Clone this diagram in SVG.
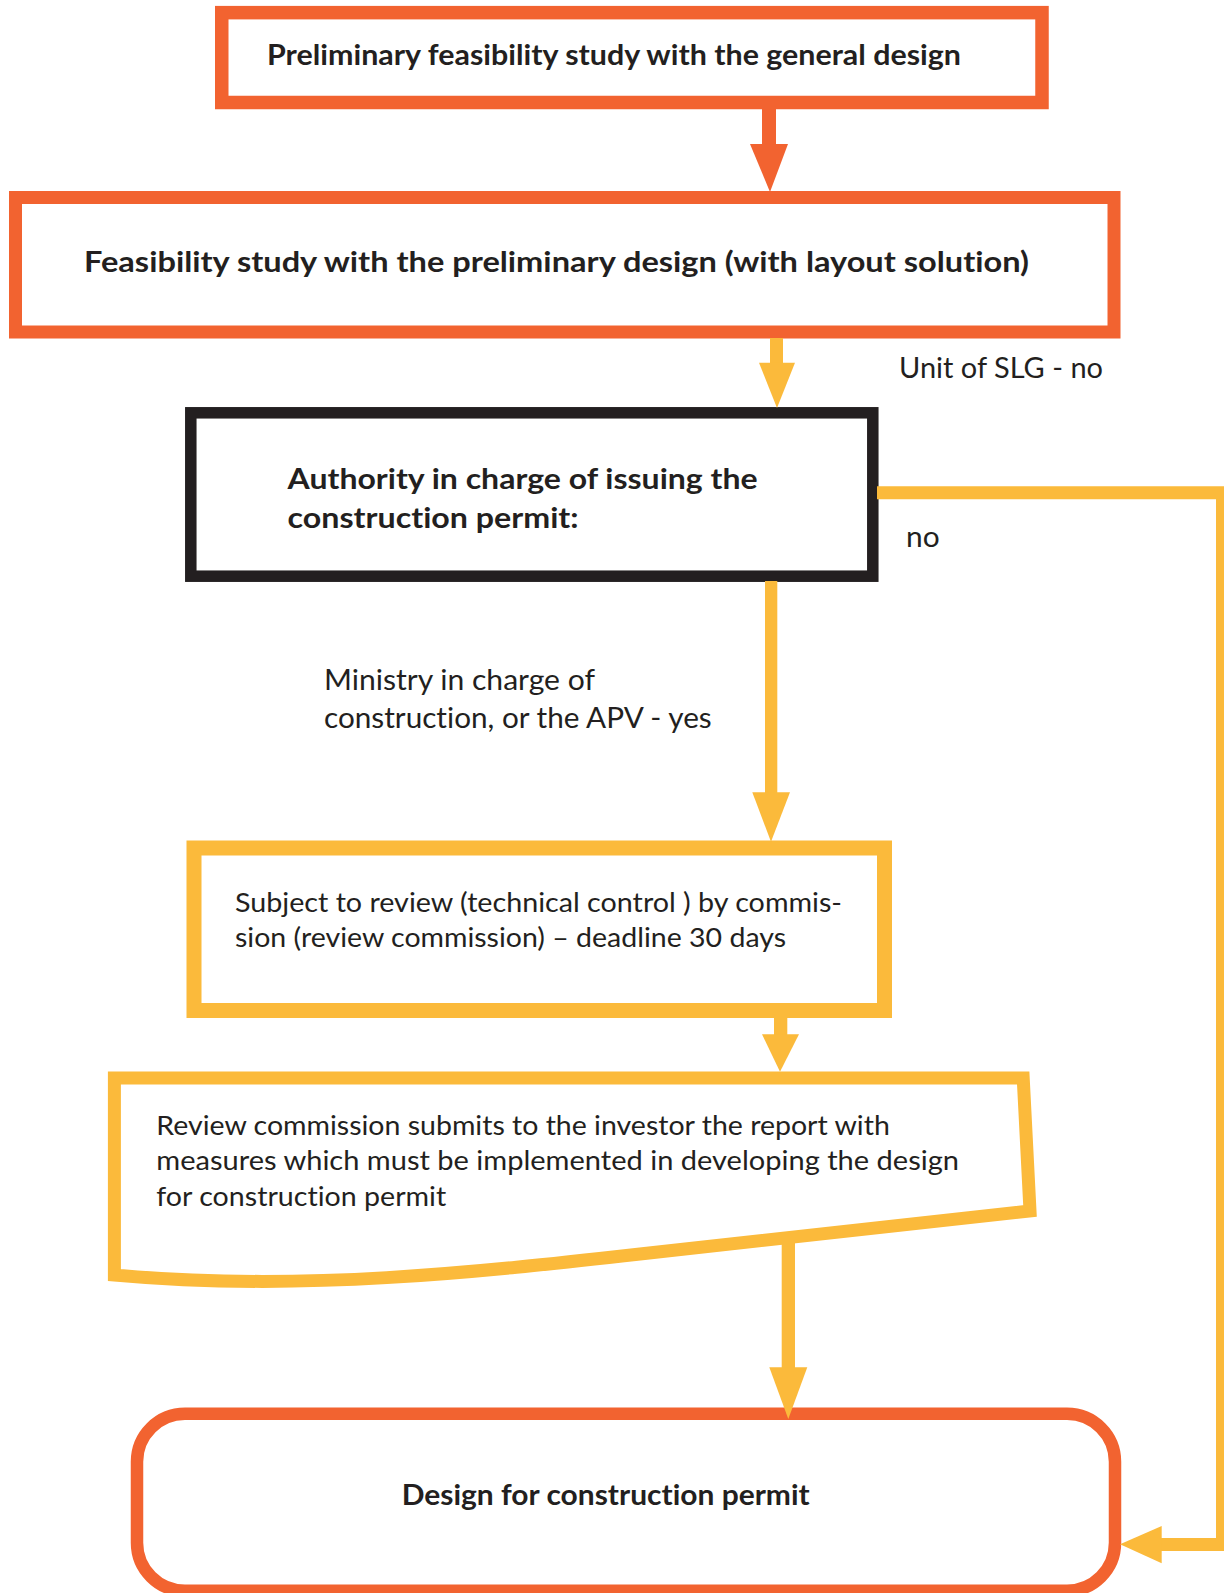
<svg xmlns="http://www.w3.org/2000/svg" width="1224" height="1593" viewBox="0 0 1224 1593">
<style>
.bg{fill:#ffffff}
.or{fill:#ffffff;stroke:#F26330;stroke-linejoin:miter}
.ye{fill:#ffffff;stroke:#FBBA3B;stroke-linejoin:miter}
.bk{fill:#ffffff;stroke:#231F20;stroke-linejoin:miter}
.t{font-family:Lato,"Open Sans","Liberation Sans",sans-serif;fill:#231F20;font-variant-ligatures:none;font-feature-settings:"liga" 0,"clig" 0}
.b{font-weight:700}
.r{font-weight:400}
.yf{fill:#FBBA3B}
.of{fill:#F26330}
.yl{fill:none;stroke:#FBBA3B;stroke-width:13;stroke-linejoin:miter}
</style>
<rect class="bg" x="0" y="0" width="1224" height="1593"/>

<g id="node-prelim">
<rect class="or" x="221.75" y="12.65" width="820.25" height="89.85" stroke-width="13.5"/>
<text class="t b" x="267" y="65" font-size="29" textLength="694" lengthAdjust="spacingAndGlyphs">Preliminary feasibility study with the general design</text>
</g>

<g id="node-feasibility">
<rect class="or" x="15.5" y="197.5" width="1098.5" height="134.5" stroke-width="13"/>
<text class="t b" x="84" y="271.5" font-size="29" textLength="945" lengthAdjust="spacingAndGlyphs">Feasibility study with the preliminary design (with layout solution)</text>
</g>

<g id="node-authority">
<rect class="bk" x="190.8" y="412.8" width="682" height="163.4" stroke-width="11.5"/>
<text class="t b" x="287.6" y="489.3" font-size="29" textLength="470" lengthAdjust="spacingAndGlyphs">Authority in charge of issuing the</text>
<text class="t b" x="287.6" y="528.3" font-size="29" textLength="291" lengthAdjust="spacingAndGlyphs">construction permit:</text>
</g>

<g id="node-review">
<rect class="ye" x="194" y="848" width="690.5" height="162.5" stroke-width="15"/>
<text class="t r" x="235" y="911.7" font-size="27.5" textLength="607" lengthAdjust="spacingAndGlyphs">Subject to review (technical control ) by commis-</text>
<text class="t r" x="235" y="947.3" font-size="27.5" textLength="551" lengthAdjust="spacingAndGlyphs">sion (review commission) – deadline 30 days</text>
</g>

<g id="node-report">
<path class="ye" d="M114.4,1078 L1023.2,1078 L1030,1211 L640,1254 C480,1272 300,1292 114.4,1275 Z" stroke-width="13"/>
<text class="t r" x="156.3" y="1135" font-size="26.5" textLength="733.5" lengthAdjust="spacingAndGlyphs">Review commission submits to the investor the report with</text>
<text class="t r" x="156.3" y="1170" font-size="26.5" textLength="802.7" lengthAdjust="spacingAndGlyphs">measures which must be implemented in developing the design</text>
<text class="t r" x="156.3" y="1205.7" font-size="26.5" textLength="289.9" lengthAdjust="spacingAndGlyphs">for construction permit</text>
</g>

<g id="node-design">
<rect class="or" x="137" y="1413.8" width="978" height="177" rx="48" ry="48" stroke-width="12.5"/>
<text class="t b" x="401.7" y="1505" font-size="28" textLength="408" lengthAdjust="spacingAndGlyphs">Design for construction permit</text>
</g>

<g id="connectors">
<rect class="of" x="762" y="108" width="14" height="37"/>
<polygon class="of" points="750,144 788,144 770,192"/>

<rect class="yf" x="770" y="338" width="13" height="25.5"/>
<polygon class="yf" points="759,362.7 795,362.7 777,408"/>

<rect class="yf" x="765" y="581" width="12.3" height="212"/>
<polygon class="yf" points="752.3,792.3 790,792.3 771,841.7"/>

<rect class="yf" x="774" y="1017" width="13.3" height="18"/>
<polygon class="yf" points="762,1034.3 799,1034.3 780,1071.7"/>

<rect class="yf" x="781.7" y="1236" width="13.3" height="132"/>
<polygon class="yf" points="769.3,1367.3 807.3,1367.3 788.3,1419"/>

<polyline class="yl" points="877,492.7 1222.5,492.7 1222.5,1544.5 1160,1544.5"/>
<polygon class="yf" points="1161.7,1526 1161.7,1563.3 1120,1544.3"/>

<text class="t r" x="899" y="378" font-size="29" textLength="204" lengthAdjust="spacingAndGlyphs">Unit of SLG - no</text>
<text class="t r" x="906" y="546.7" font-size="29" textLength="33.6" lengthAdjust="spacingAndGlyphs">no</text>
<text class="t r" x="324" y="690" font-size="29.5" textLength="271" lengthAdjust="spacingAndGlyphs">Ministry in charge of</text>
<text class="t r" x="324" y="728.3" font-size="29.5" textLength="387.7" lengthAdjust="spacingAndGlyphs">construction, or the APV - yes</text>
</g>
</svg>
